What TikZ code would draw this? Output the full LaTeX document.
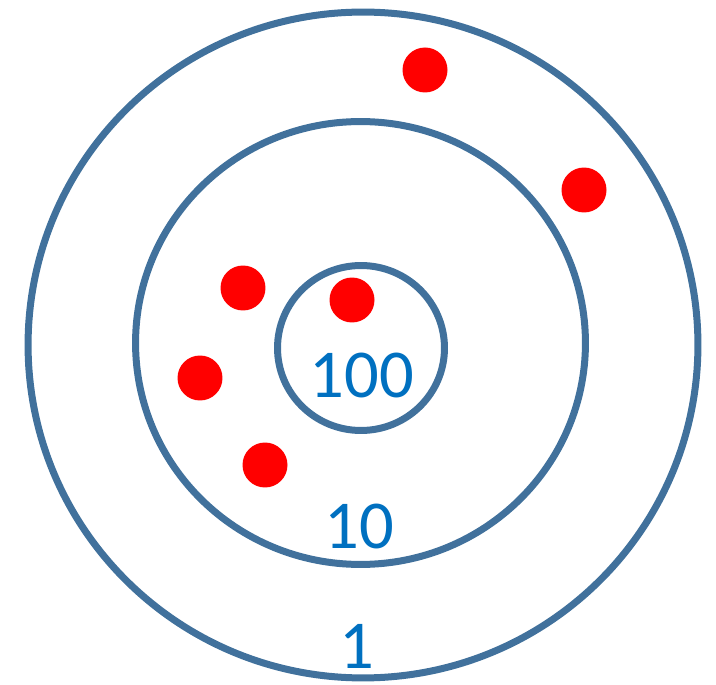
\documentclass[tikz,border=0pt]{standalone}
\usepackage{fontspec}
\setmainfont{Carlito}
\usetikzlibrary{positioning,shapes.geometric}
\definecolor{ringblue}{RGB}{65,113,156}
\definecolor{scoreblue}{RGB}{0,112,192}
\definecolor{hitred}{RGB}{255,0,0}
\tikzset{
    ring/.style={ellipse, draw=ringblue, line width=0.14cm, inner sep=0pt},
    hit/.style={circle, fill=hitred, minimum size=0.9cm, inner sep=0pt},
    score/.style={text=scoreblue, inner sep=0pt, font=\fontsize{39}{39}\selectfont},
}

\begin{document}
\begin{tikzpicture}[x=0.02cm, y=-0.02cm]
    \useasboundingbox (0,0) rectangle (716,685);

    % rings of the target
    \node[ring, minimum width=13.40cm, minimum height=13.32cm] (outer)  at (363,345)   {};
    \node[ring, minimum width=9.00cm,  minimum height=8.86cm]  (middle) at (360.5,343) {};
    \node[ring, minimum width=3.34cm,  minimum height=3.30cm]  (inner)  at (361,348)   {};

    % points per ring
    \node[score] (s100) at (362,376) {100};
    \node[score] (s10)  at (359,526) {10};
    \node[score] (s1)   at (357,646) {1};

    % shots
    \node[hit] (h1) at (425,70)  {};
    \node[hit] (h2) at (584,190) {};
    \node[hit] (h3) at (243,288) {};
    \node[hit] (h4) at (352,300) {};
    \node[hit] (h5) at (200,378) {};
    \node[hit] (h6) at (265,465) {};
\end{tikzpicture}
\end{document}
